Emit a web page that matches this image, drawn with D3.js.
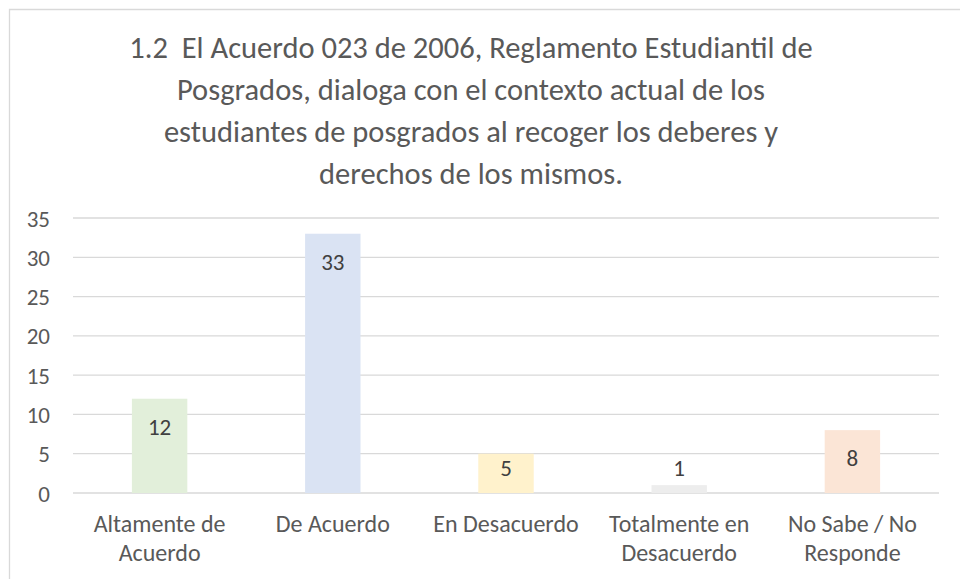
<!DOCTYPE html>
<html lang="es">
  <head>
    <meta charset="utf-8">
    <title>Reglamento Estudiantil de Posgrados</title>
    <script src="https://d3js.org/d3.v7.min.js"></script>
    <style>
      body
      {
        margin: 0;
        background: #fff;
      }
      text
      {
        font-family: Calibri, Carlito, Lato, "Open Sans", sans-serif;
      }
      .grid line
      {
        stroke: #d9d9d9;
        stroke-width: 1.3;
      }
    </style>
  </head>
  <body>
    <svg width="960" height="579"></svg>

    <script>
      // datos
      var categories = [["Altamente de", "Acuerdo"], ["De Acuerdo"], ["En Desacuerdo"],
                        ["Totalmente en", "Desacuerdo"], ["No Sabe / No", "Responde"]];
      var values = [12, 33, 5, 1, 8];
      var colors = ["#e2efda", "#dae3f3", "#fff2cc", "#ededed", "#fbe5d6"];
      var yTicks = [0, 5, 10, 15, 20, 25, 30, 35];
      var titleLines = ["1.2  El Acuerdo 023 de 2006, Reglamento Estudiantil de",
                        "Posgrados, dialoga con el contexto actual de los",
                        "estudiantes de posgrados al recoger los deberes y",
                        "derechos de los mismos."];

      var svg = d3.select("svg");

      // marco del grafico
      svg.append("path")
         .attr("d", "M9.5,579 V9.5 H960")
         .attr("fill", "none")
         .attr("stroke", "#d9d9d9")
         .attr("stroke-width", 1.3);

      svg.append("g").selectAll("text")
         .data(titleLines)
         .enter().append("text")
         .attr("x", 471)
         .attr("y", function(d, i){ return 58 + i * 42; })
         .attr("text-anchor", "middle")
         .attr("fill", "#595959")
         .attr("font-size", 30.5)
         .style("white-space", "pre")
         .text(function(d){ return d; });

      var x = d3.scaleBand()
                .domain(d3.range(values.length))
                .range([73, 939])
                .paddingInner(0.68)
                .paddingOuter(0.34);

      var y = d3.scaleLinear().domain([0, 35]).range([493, 218]);

      // lineas de cuadricula
      svg.append("g").attr("class", "grid")
         .selectAll("line")
         .data(yTicks)
         .enter().append("line")
         .attr("x1", 73).attr("x2", 939)
         .attr("y1", function(d){ return y(d); })
         .attr("y2", function(d){ return y(d); });

      var yAxis = d3.axisLeft(y).tickValues(yTicks).tickSize(0).tickPadding(0);
      var ya = svg.append("g").attr("transform", "translate(50,0)").call(yAxis);
      ya.select(".domain").remove();
      ya.attr("font-family", null).attr("font-size", 23);
      ya.selectAll("text")
        .attr("fill", "#595959")
        .attr("dy", "0.35em");

      svg.append("g").selectAll("rect")
         .data(values)
         .enter().append("rect")
         .attr("x", function(d, i){ return x(i); })
         .attr("y", function(d){ return y(d); })
         .attr("width", x.bandwidth())
         .attr("height", function(d){ return y(0) - y(d); })
         .attr("fill", function(d, i){ return colors[i]; });

      svg.append("g").selectAll("text")
         .data(values)
         .enter().append("text")
         .attr("x", function(d, i){ return x(i) + x.bandwidth() / 2; })
         .attr("y", function(d){ return Math.min(y(d) + 28, y(0) - 25); })
         .attr("dy", "0.35em")
         .attr("text-anchor", "middle")
         .attr("fill", "#404040")
         .attr("font-size", 23)
         .text(function(d){ return d; });

      // etiquetas de categoria
      var cat = svg.append("g").selectAll("text")
         .data(categories)
         .enter().append("text")
         .attr("x", function(d, i){ return x(i) + x.bandwidth() / 2; })
         .attr("y", 532)
         .attr("text-anchor", "middle")
         .attr("fill", "#595959")
         .attr("font-size", 24);
      cat.selectAll("tspan")
         .data(function(d){ return d; })
         .enter().append("tspan")
         .attr("x", function(){ return d3.select(this.parentNode).attr("x"); })
         .attr("dy", function(d, i){ return i ? 29 : 0; })
         .text(function(d){ return d; });
    </script>
  </body>
</html>
